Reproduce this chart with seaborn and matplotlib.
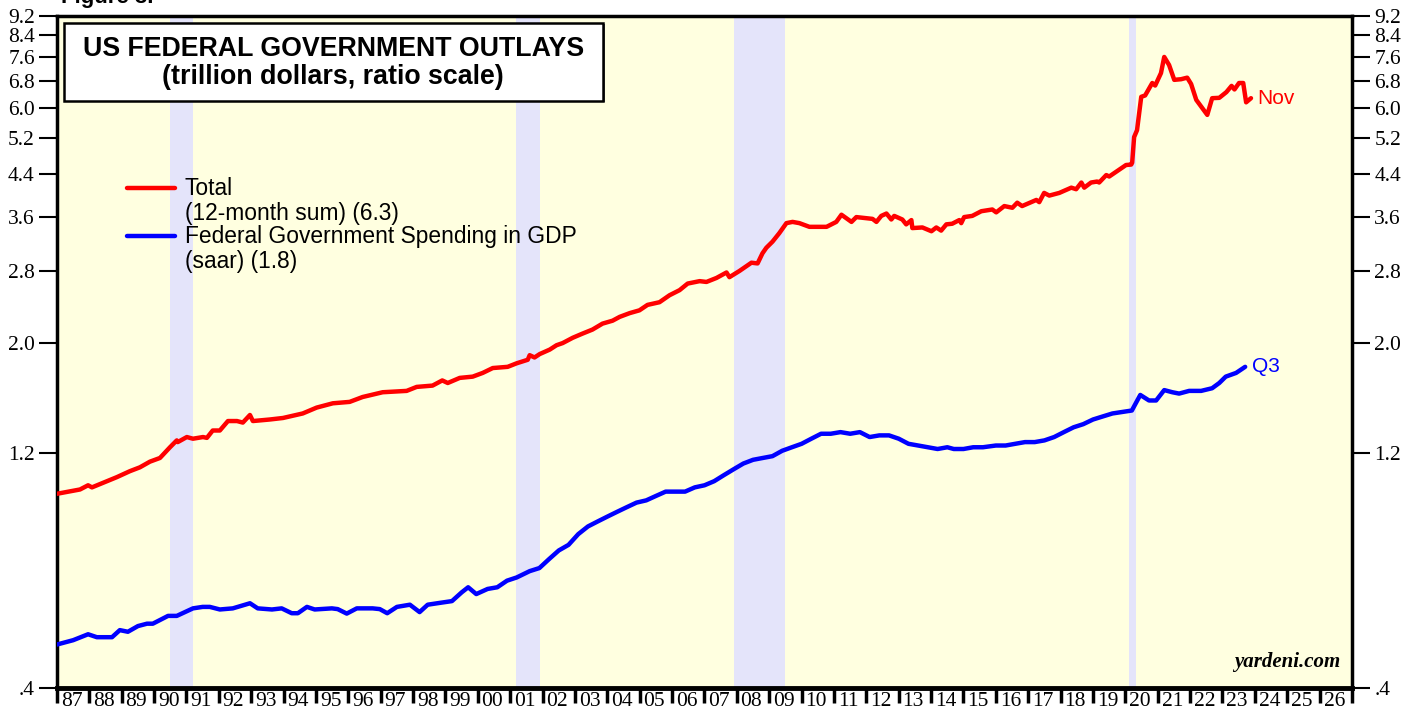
import numpy as np
import pandas as pd
import matplotlib
matplotlib.use("Agg")
import matplotlib.pyplot as plt
import seaborn as sns
from matplotlib.patches import Rectangle
from matplotlib.ticker import NullLocator

# Total federal outlays, 12-month sum (trillion $)
total_dates = [1987.00, 1987.71, 1987.96, 1988.08, 1988.39, 1988.85, 1989.25, 1989.56, 1989.87,
               1990.18, 1990.49, 1990.70, 1990.73, 1991.01, 1991.20, 1991.51, 1991.63, 1991.81,
               1992.03, 1992.28, 1992.56, 1992.74, 1992.96, 1993.05, 1993.57, 1993.98, 1994.59,
               1995.02, 1995.52, 1996.04, 1996.44, 1997.06, 1997.80, 1998.11, 1998.60, 1998.90,
               1999.07, 1999.44, 1999.84, 2000.15, 2000.46, 2000.92, 2001.20, 2001.54, 2001.60,
               2001.75, 2001.91, 2002.22, 2002.43, 2002.62, 2002.93, 2003.23, 2003.54, 2003.85,
               2004.16, 2004.38, 2004.69, 2004.99, 2005.24, 2005.61, 2005.92, 2006.23, 2006.48,
               2006.85, 2007.06, 2007.37, 2007.68, 2007.77, 2008.08, 2008.45, 2008.64, 2008.79,
               2008.91, 2009.10, 2009.31, 2009.53, 2009.72, 2009.93, 2010.24, 2010.77, 2011.07,
               2011.23, 2011.54, 2011.69, 2012.19, 2012.31, 2012.46, 2012.62, 2012.77, 2012.86,
               2013.11, 2013.23, 2013.39, 2013.42, 2013.73, 2014.01, 2014.16, 2014.31, 2014.47,
               2014.65, 2014.87, 2014.93, 2015.02, 2015.27, 2015.55, 2015.89, 2016.01, 2016.26,
               2016.51, 2016.66, 2016.81, 2017.25, 2017.34, 2017.49, 2017.65, 2017.96, 2018.33,
               2018.48, 2018.64, 2018.73, 2018.94, 2019.13, 2019.19, 2019.41, 2019.50, 2019.72,
               2020.02, 2020.18, 2020.21, 2020.27, 2020.36, 2020.49, 2020.61, 2020.83, 2020.92,
               2021.10, 2021.20, 2021.35, 2021.51, 2021.72, 2021.91, 2022.03, 2022.19, 2022.53,
               2022.68, 2022.90, 2023.12, 2023.28, 2023.37, 2023.51, 2023.64, 2023.73, 2023.88]
total_vals = [0.99, 1.01, 1.03, 1.02, 1.04, 1.07, 1.10, 1.12, 1.15,
              1.17, 1.23, 1.27, 1.26, 1.29, 1.28, 1.29, 1.285, 1.33,
              1.33, 1.39, 1.39, 1.38, 1.43, 1.39, 1.40, 1.41, 1.44,
              1.48, 1.51, 1.52, 1.555, 1.59, 1.60, 1.63, 1.64, 1.68,
              1.66, 1.70, 1.71, 1.74, 1.78, 1.79, 1.82, 1.85, 1.89,
              1.87, 1.90, 1.94, 1.98, 2.00, 2.05, 2.09, 2.13, 2.19,
              2.22, 2.26, 2.30, 2.33, 2.39, 2.42, 2.50, 2.56, 2.64,
              2.67, 2.66, 2.71, 2.78, 2.72, 2.80, 2.91, 2.90, 3.04,
              3.12, 3.21, 3.34, 3.50, 3.52, 3.50, 3.44, 3.44, 3.52,
              3.64, 3.52, 3.60, 3.57, 3.52, 3.62, 3.66, 3.56, 3.62,
              3.56, 3.48, 3.55, 3.42, 3.43, 3.37, 3.43, 3.38, 3.48,
              3.49, 3.55, 3.50, 3.60, 3.62, 3.70, 3.73, 3.68, 3.79,
              3.76, 3.85, 3.79, 3.90, 3.86, 4.03, 3.98, 4.03, 4.13,
              4.10, 4.23, 4.13, 4.23, 4.25, 4.23, 4.38, 4.35, 4.45,
              4.59, 4.60, 4.64, 5.23, 5.40, 6.31, 6.35, 6.73, 6.65,
              7.05, 7.60, 7.32, 6.83, 6.85, 6.90, 6.70, 6.22, 5.80,
              6.27, 6.28, 6.45, 6.64, 6.53, 6.73, 6.73, 6.15, 6.27]

# Federal government spending in GDP (saar, trillion $), quarterly
gdp_dates = [1987.00, 1987.50, 1987.96, 1988.23, 1988.70, 1988.94, 1989.19, 1989.50, 1989.78,
             1989.96, 1990.43, 1990.70, 1991.20, 1991.50, 1991.72, 1992.03, 1992.43, 1992.96,
             1993.20, 1993.64, 1993.94, 1994.25, 1994.44, 1994.72, 1994.96, 1995.49, 1995.67,
             1995.95, 1996.26, 1996.75, 1996.97, 1997.20, 1997.50, 1997.90, 1998.20, 1998.45,
             1998.82, 1999.20, 1999.50, 1999.70, 1999.95, 2000.30, 2000.60, 2000.90, 2001.20,
             2001.60, 2001.90, 2002.20, 2002.50, 2002.80, 2003.10, 2003.40, 2003.70, 2004.00,
             2004.30, 2004.60, 2004.90, 2005.20, 2005.50, 2005.80, 2006.10, 2006.40, 2006.70,
             2007.00, 2007.30, 2007.60, 2007.90, 2008.20, 2008.50, 2008.80, 2009.10, 2009.40,
             2009.70, 2010.00, 2010.30, 2010.60, 2010.90, 2011.20, 2011.50, 2011.80, 2012.10,
             2012.40, 2012.70, 2013.00, 2013.30, 2013.60, 2013.90, 2014.20, 2014.50, 2014.70,
             2015.00, 2015.30, 2015.60, 2016.00, 2016.30, 2016.60, 2016.90, 2017.20, 2017.50,
             2017.80, 2018.10, 2018.40, 2018.70, 2019.00, 2019.30, 2019.60, 2019.90, 2020.20,
             2020.46, 2020.73, 2020.95, 2021.20, 2021.45, 2021.66, 2021.97, 2022.34, 2022.68,
             2022.90, 2023.10, 2023.42, 2023.70]
gdp_vals = [0.49, 0.50, 0.514, 0.507, 0.507, 0.524, 0.52, 0.534, 0.54,
            0.54, 0.56, 0.56, 0.58, 0.584, 0.584, 0.577, 0.58, 0.594,
            0.58, 0.577, 0.58, 0.567, 0.567, 0.584, 0.577, 0.58, 0.578,
            0.566, 0.58, 0.58, 0.578, 0.567, 0.584, 0.59, 0.57, 0.59,
            0.595, 0.60, 0.625, 0.64, 0.62, 0.635, 0.64, 0.66, 0.67,
            0.69, 0.70, 0.73, 0.76, 0.78, 0.82, 0.85, 0.87, 0.89,
            0.91, 0.93, 0.95, 0.96, 0.98, 1.00, 1.00, 1.00, 1.02,
            1.03, 1.05, 1.08, 1.11, 1.14, 1.16, 1.17, 1.18, 1.21,
            1.23, 1.25, 1.28, 1.31, 1.31, 1.32, 1.31, 1.32, 1.29,
            1.30, 1.30, 1.28, 1.25, 1.24, 1.23, 1.22, 1.23, 1.22,
            1.22, 1.23, 1.23, 1.24, 1.24, 1.25, 1.26, 1.26, 1.27,
            1.29, 1.32, 1.35, 1.37, 1.40, 1.42, 1.44, 1.45, 1.46,
            1.57, 1.53, 1.53, 1.606, 1.59, 1.58, 1.60, 1.60, 1.62,
            1.66, 1.71, 1.74, 1.79]

# recessions (start, end) in decimal years
recessions = [(1990.50, 1991.21), (2001.17, 2001.92), (2007.92, 2009.50), (2020.10, 2020.32)]

y_ticks = [0.4, 1.2, 2.0, 2.8, 3.6, 4.4, 5.2, 6.0, 6.8, 7.6, 8.4, 9.2]
years = list(range(1987, 2027))

sns.set_style("white")
plt.rcParams['font.family'] = ['Liberation Sans', 'DejaVu Sans']
plt.rcParams['text.color'] = 'black'
plt.rcParams['xtick.color'] = 'black'
plt.rcParams['ytick.color'] = 'black'

fig = plt.figure(figsize=(14.17, 7.19), dpi=100)
ax = fig.add_axes([57 / 1417, 1 - 688 / 719, 1295 / 1417, 672 / 719])
ax.set_facecolor('#FFFFE0')

for s, e in recessions:
    ax.axvspan(s, e, color='#E4E4FA', lw=0, zorder=0)

total_df = pd.DataFrame({'date': total_dates, 'value': total_vals})
gdp_df = pd.DataFrame({'date': gdp_dates, 'value': gdp_vals})
sns.lineplot(data=total_df, x='date', y='value', color='red', lw=3.2, ax=ax, zorder=3)
sns.lineplot(data=gdp_df, x='date', y='value', color='blue', lw=3.2, ax=ax, zorder=3)

ax.set_yscale('log')
ax.set_ylim(0.4, 9.2)
ax.set_xlim(1987, 2027)
ax.yaxis.set_minor_locator(NullLocator())
ax.set_yticks(y_ticks)
ax.set_yticklabels([('%.1f' % v).lstrip('0') for v in y_ticks],
                   family='Liberation Serif', fontsize=15.5)
ax.tick_params(axis='y', which='major', left=True, right=True, labelleft=True, labelright=True,
               direction='out', length=13, width=1.5, pad=3)

ax.set_xticks(range(1987, 2028))
ax.set_xticklabels([])
ax.set_xticks([y + 0.45 for y in years], minor=True)
ax.set_xticklabels(['%02d' % (y % 100) for y in years], minor=True,
                   family='Liberation Serif', fontsize=15.5)
ax.tick_params(axis='x', which='major', direction='out', length=11, width=2.5, bottom=True)
ax.tick_params(axis='x', which='minor', length=0, pad=3)
ax.set_xlabel('')
ax.set_ylabel('')

for sp in ax.spines.values():
    sp.set_visible(True)
    sp.set_color('black')
    sp.set_linewidth(2.5)
ax.spines['bottom'].set_linewidth(3.5)

# title box
ax.add_patch(Rectangle((0.0075, 0.872), 0.416, 0.116, transform=ax.transAxes,
                       facecolor='#555555', edgecolor='none', zorder=4))
ax.add_patch(Rectangle((0.0054, 0.874), 0.416, 0.116, transform=ax.transAxes,
                       facecolor='white', edgecolor='black', lw=1.8, zorder=5))
ax.text(0.2134, 0.951, 'US FEDERAL GOVERNMENT OUTLAYS', transform=ax.transAxes,
        ha='center', va='center', fontsize=19.3, fontweight='bold', zorder=6)
ax.text(0.2134, 0.909, '(trillion dollars, ratio scale)', transform=ax.transAxes,
        ha='center', va='center', fontsize=19.3, fontweight='bold', zorder=6)

# legend
ax.plot([0.054, 0.0911], [0.744, 0.744], transform=ax.transAxes, color='red', lw=3.2)
ax.plot([0.054, 0.0911], [0.6726, 0.6726], transform=ax.transAxes, color='blue', lw=3.2)
leg_lines = [('Total', 0.744), ('(12-month sum) (6.3)', 0.7054),
             ('Federal Government Spending in GDP', 0.6726), ('(saar) (1.8)', 0.634)]
for txt, yy in leg_lines:
    ax.text(0.0988, yy, txt, transform=ax.transAxes, ha='left', va='center', fontsize=16.4)

ax.text(total_dates[-1] + 0.18, total_vals[-1], 'Nov', color='red', fontsize=15,
        ha='left', va='center')
ax.text(gdp_dates[-1] + 0.22, gdp_vals[-1], 'Q3', color='blue', fontsize=15,
        ha='left', va='center')

ax.text(0.9907, 0.024, 'yardeni.com', transform=ax.transAxes, ha='right', va='bottom',
        family='Liberation Serif', fontsize=15, fontweight='bold', style='italic')

fig.text(0.043, 1.004, 'Figure 3.', ha='left', va='center', fontsize=16, fontweight='bold')

fig.savefig('out.png', dpi=100)
